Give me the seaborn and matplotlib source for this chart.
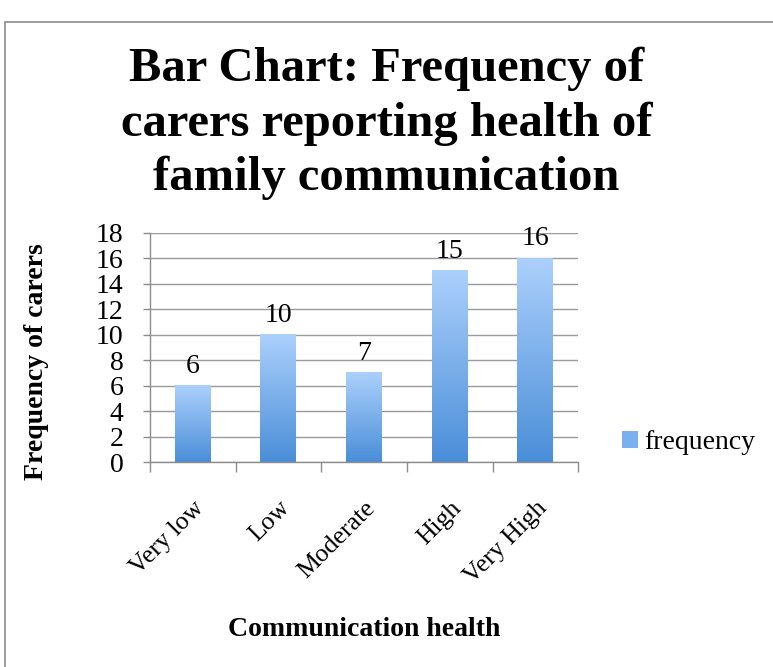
import numpy as np
import pandas as pd
import matplotlib
matplotlib.use('Agg')
import matplotlib.pyplot as plt
import seaborn as sns
from matplotlib.patches import Rectangle

# chart data
categories = ['Very low', 'Low', 'Moderate', 'High', 'Very High']
frequency = [6, 10, 7, 15, 16]
y_ticks = [0, 2, 4, 6, 8, 10, 12, 14, 16, 18]

df = pd.DataFrame({'health': categories, 'frequency': frequency})

sns.set_theme(style='white')
plt.rcParams['font.family'] = ['Liberation Serif', 'DejaVu Serif']
plt.rcParams['text.color'] = 'black'
plt.rcParams['axes.labelcolor'] = 'black'

fig = plt.figure(figsize=(7.73, 6.67), dpi=100)
ax = fig.add_axes([0.194, 0.307, 0.554, 0.344])

sns.barplot(data=df, x='health', y='frequency', color='#6fa5e6', width=0.42, ax=ax)

# excel-like vertical gradient on each bar
grad = np.linspace(0, 1, 256).reshape(-1, 1)
cmap = matplotlib.colors.LinearSegmentedColormap.from_list('bluegrad', ['#4a8ed8', '#acd0fc'])
for p in ax.patches:
    x0, y0 = p.get_x(), p.get_y()
    w, h = p.get_width(), p.get_height()
    ax.imshow(grad, extent=[x0, x0 + w, y0, y0 + h], origin='lower', aspect='auto',
              cmap=cmap, zorder=2)
    p.set_facecolor('none')
    p.set_edgecolor('none')

ax.bar_label(ax.containers[0], labels=[str(v) for v in frequency], padding=5, fontsize=20)

ax.set_xlim(-0.5, 4.5)
ax.set_ylim(0, 18)
ax.set_yticks(y_ticks)
ax.tick_params(axis='y', labelsize=20, length=5, width=1, color='#8c8c8c', labelcolor='black',
               direction='out', pad=14, left=True)
ax.set_xticks(range(len(categories)))
ax.set_xticklabels(categories, rotation=45, ha='right', rotation_mode='anchor', fontsize=18.5)
ax.tick_params(axis='x', length=0, pad=25, labelcolor='black')
ax.set_xticks(np.arange(-0.5, 5, 1), minor=True)
ax.tick_params(axis='x', which='minor', length=7, width=1, color='#8c8c8c', direction='out', bottom=True)

ax.grid(axis='y', color='#9a9a9a', linewidth=1)
ax.set_axisbelow(True)
for s in ['top', 'right']:
    ax.spines[s].set_visible(False)
for s in ['left', 'bottom']:
    ax.spines[s].set_color('#8c8c8c')
    ax.spines[s].set_linewidth(1)

ax.set_xlabel('Communication health', fontsize=20, fontweight='bold', labelpad=21)
ax.set_ylabel('Frequency of carers', fontsize=20, fontweight='bold')
ax.yaxis.set_label_coords(-0.236, 0.44)

fig.suptitle('Bar Chart: Frequency of\ncarers reporting health of\nfamily communication',
             fontsize=35, fontweight='bold', y=0.93, va='top', linespacing=1.3)

# legend
handle = Rectangle((0, 0), 1, 1, facecolor='#7ab0ee', edgecolor='none')
fig.legend([handle], ['frequency'], loc='center left', bbox_to_anchor=(0.772, 0.336),
           frameon=False, fontsize=20, handlelength=0.6, handleheight=0.6, handletextpad=0.2)

# outer chart border
fig.patches.append(Rectangle((5 / 773, -0.1), 1.1, 1 - 22 / 667 + 0.1, transform=fig.transFigure,
                             fill=False, edgecolor='#8c8c8c', linewidth=1.2))

fig.savefig('out.png', dpi=100)
